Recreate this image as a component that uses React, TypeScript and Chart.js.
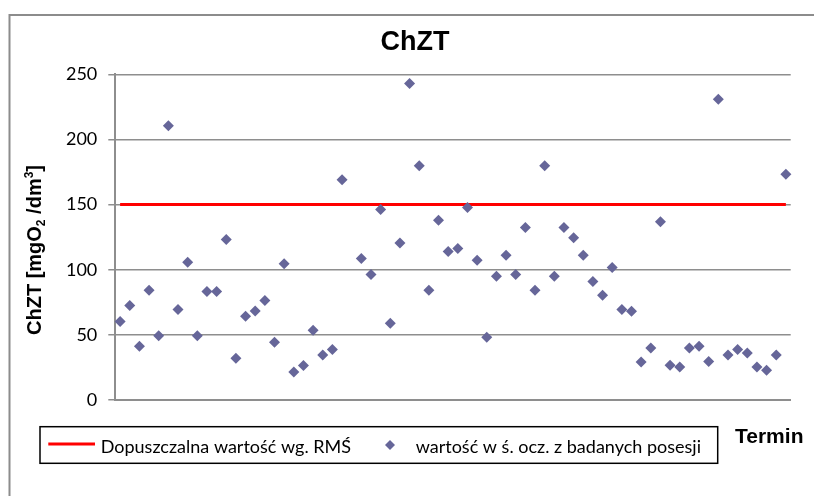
import React, { useEffect, useRef } from "react";
import { Chart, registerables } from "chart.js";

Chart.register(...registerables);

// ---- data ----
const chartTitle = "ChZT";
const yTitleParts = ["ChZT [mgO", "2", " /dm", "3", "]"];
const xTitle = "Termin";
const limitLabel = "Dopuszczalna wartość wg. RMŚ";
const seriesLabel = "wartość w ś. ocz. z badanych posesji";
const limitValue = 150;
const yTicks = [0, 50, 100, 150, 200, 250];

const measured: (number | null)[] = [
  60.2, 72.5, 41.2, 84.3, 49.4, 210.6, 69.4, 105.8, 49.4, 83.2,
  83.2, 123.2, 32, 64.3, 68.4, 76.3, 44.3, 104.5, 21.5, 26.4,
  53.5, 34.6, 38.7, 169, null, 108.6, 96.3, 146.3, 58.9, 120.6,
  243, 179.8, 84.3, 138, 114, 116.3, 147.8, 107.3, 48.2, 95,
  111.2, 96.3, 132.4, 84.3, 179.8, 95, 132.4, 124.5, 111.2, 90.9,
  80.4, 101.7, 69.4, 68.1, 29.2, 40, 136.8, 26.6, 25.4, 40,
  41.2, 29.5, 230.8, 34.6, 38.7, 36.1, 25.4, 22.8, 34.6, 173.2,
];
const terms = measured.map((_, i) => String(i + 1));

const LIMIT_COLOR = "#ff0000";
const POINT_COLOR = "#666699";
const GRID_COLOR = "#8e8e8e";
const TICK_FONT = "Lato";
const BOLD_FONT = "'Liberation Sans', Arial, sans-serif";

const decorPlugin = {
  id: "decor",
  afterDraw(chart: any) {
    const ctx = chart.ctx as CanvasRenderingContext2D;
    const W = chart.width;
    const H = chart.height;
    ctx.save();
    // keep the right margin clean
    ctx.fillStyle = "#fff";
    ctx.fillRect(W - 14, 0, 14, H);

    // outer frame: only top and left edges are visible (cropped)
    ctx.strokeStyle = "#8c8c8c";
    ctx.lineWidth = 2;
    ctx.beginPath();
    ctx.moveTo(9.5, H + 5);
    ctx.lineTo(9.5, 15);
    ctx.lineTo(W + 5, 15);
    ctx.stroke();

    // title
    ctx.fillStyle = "#000";
    ctx.font = `bold 27px ${BOLD_FONT}`;
    ctx.textAlign = "center";
    ctx.textBaseline = "alphabetic";
    ctx.fillText(chartTitle, 415, 50);

    // y axis title (rotated, with sub/superscript)
    ctx.save();
    ctx.translate(40.5, 250);
    ctx.rotate(-Math.PI / 2);
    const big = `bold 20px ${BOLD_FONT}`;
    const small = `bold 12px ${BOLD_FONT}`;
    const parts = [
      { t: yTitleParts[0], f: big, dy: 0 },
      { t: yTitleParts[1], f: small, dy: 4 },
      { t: yTitleParts[2], f: big, dy: 0 },
      { t: yTitleParts[3], f: small, dy: -8 },
      { t: yTitleParts[4], f: big, dy: 0 },
    ];
    let total = 0;
    for (const p of parts) { ctx.font = p.f; total += ctx.measureText(p.t).width; }
    let x = -total / 2;
    ctx.textAlign = "left";
    for (const p of parts) {
      ctx.font = p.f;
      ctx.fillText(p.t, x, p.dy);
      x += ctx.measureText(p.t).width;
    }
    ctx.restore();

    // legend box
    ctx.strokeStyle = "#000";
    ctx.lineWidth = 1.5;
    ctx.strokeRect(40, 426.7, 677.7, 36.6);
    ctx.strokeStyle = LIMIT_COLOR;
    ctx.lineWidth = 3;
    ctx.beginPath();
    ctx.moveTo(48.3, 444);
    ctx.lineTo(95, 444);
    ctx.stroke();
    ctx.fillStyle = "#000";
    ctx.font = `18px ${TICK_FONT}`;
    ctx.textAlign = "left";
    ctx.fillText(chart.data.datasets[0].label, 100.7, 453.3);
    ctx.fillStyle = POINT_COLOR;
    ctx.beginPath();
    ctx.moveTo(390, 440);
    ctx.lineTo(395, 445);
    ctx.lineTo(390, 450);
    ctx.lineTo(385, 445);
    ctx.closePath();
    ctx.fill();
    ctx.fillStyle = "#000";
    ctx.fillText(chart.data.datasets[1].label, 415.7, 453.3);

    // x axis title
    ctx.font = `bold 21px ${BOLD_FONT}`;
    ctx.fillText(xTitle, 735, 443.3);
    ctx.restore();
  },
};

export default function App() {
  const ref = useRef<HTMLCanvasElement | null>(null);
  useEffect(() => {
    document.documentElement.style.overflow = "hidden";
    document.body.style.overflow = "hidden";
    if (!ref.current) return;
    const chart = new Chart(ref.current, {
      type: "line",
      data: {
        labels: terms,
        datasets: [
          {
            label: limitLabel,
            data: terms.map(() => limitValue),
            borderColor: LIMIT_COLOR,
            backgroundColor: LIMIT_COLOR,
            borderWidth: 3,
            pointRadius: 0,
            fill: false,
            order: 2,
          },
          {
            label: seriesLabel,
            data: measured,
            showLine: false,
            pointStyle: "rectRot",
            pointRadius: 5.5,
            pointBorderWidth: 0,
            pointBackgroundColor: POINT_COLOR,
            pointBorderColor: POINT_COLOR,
            borderColor: POINT_COLOR,
            backgroundColor: POINT_COLOR,
            order: 1,
          },
        ],
      },
      plugins: [decorPlugin],
      options: {
        animation: false,
        responsive: false,
        devicePixelRatio: 1,
        events: [],
        layout: { padding: { left: 0, top: 74.3, right: 23.3, bottom: 96 } },
        plugins: {
          legend: { display: false },
          title: { display: false },
          tooltip: { enabled: false },
        },
        scales: {
          x: {
            type: "category",
            offset: true,
            grid: { display: false },
            border: { display: true, color: GRID_COLOR, width: 2 },
            ticks: { display: false },
            afterFit: (s: any) => { s.height = 0; },
          },
          y: {
            min: 0,
            max: 250,
            afterBuildTicks: (s: any) => { s.ticks = yTicks.map((v) => ({ value: v })); },
            ticks: {
              padding: 11,
              color: "#000",
              font: { family: TICK_FONT, size: 18 },
            },
            grid: { color: GRID_COLOR, lineWidth: 1.5, tickLength: 7, drawTicks: true },
            border: { display: true, color: GRID_COLOR, width: 2 },
            afterFit: (s: any) => { s.width = 115.3; },
          },
        },
      },
    });
    return () => chart.destroy();
  }, []);
  return (
    <div style={{ position: "fixed", left: 0, top: 0, width: 814, height: 496, overflow: "hidden" }}>
      <canvas ref={ref} width={814} height={496} style={{ display: "block", width: 814, height: 496 }} />
    </div>
  );
}
